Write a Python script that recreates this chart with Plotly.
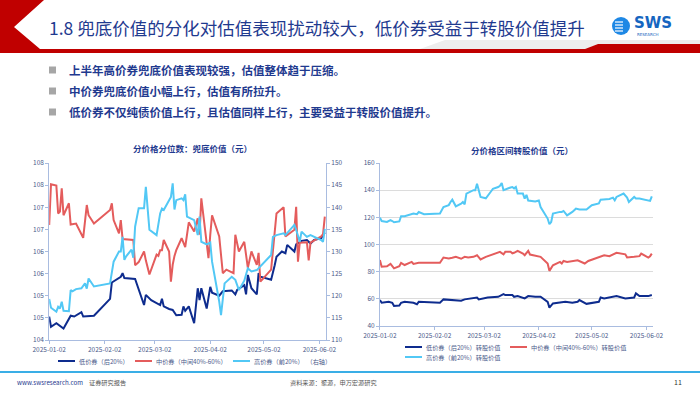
import plotly.graph_objects as go

# ---------------- data: left chart (兜底价值) ----------------
L_LOW_DATES = ["2025-01-02","2025-01-03","2025-01-06","2025-01-10","2025-01-14","2025-01-16","2025-01-20","2025-01-21","2025-01-27",
               "2025-02-05","2025-02-06","2025-02-11","2025-02-12","2025-02-13","2025-02-19","2025-02-24","2025-02-25","2025-02-28",
               "2025-03-05","2025-03-06","2025-03-07","2025-03-10","2025-03-12","2025-03-14","2025-03-17","2025-03-18","2025-03-19",
               "2025-03-21","2025-03-24","2025-03-26","2025-03-27","2025-03-28","2025-03-31","2025-04-02","2025-04-03","2025-04-07",
               "2025-04-09","2025-04-14","2025-04-16","2025-04-17","2025-04-21","2025-04-22","2025-04-23","2025-04-25","2025-04-28",
               "2025-04-29","2025-04-30","2025-05-06","2025-05-08","2025-05-09","2025-05-12","2025-05-14","2025-05-15","2025-05-19",
               "2025-05-20","2025-05-23","2025-05-26","2025-05-28","2025-05-30","2025-06-03","2025-06-05"]
L_LOW = [104.53,104.30,104.38,104.26,104.55,104.53,104.63,104.53,104.55,
         104.93,105.30,105.43,105.51,105.40,105.38,104.79,105.02,104.90,
         104.79,104.93,104.76,104.70,104.68,104.56,104.57,104.76,104.66,
         104.76,104.38,105.17,104.90,105.17,104.71,105.20,105.07,105.00,
         105.10,105.12,105.03,105.13,105.24,105.03,105.47,105.17,105.03,
         105.51,105.43,105.36,105.69,105.88,106.00,105.96,106.15,106.00,
         106.16,106.24,106.26,106.18,106.26,106.30,106.43]

L_MID_DATES = ["2025-01-02","2025-01-03","2025-01-06","2025-01-07","2025-01-08","2025-01-09","2025-01-10","2025-01-13","2025-01-14",
               "2025-01-17","2025-01-21","2025-01-23","2025-01-24","2025-01-27","2025-02-05","2025-02-06","2025-02-07","2025-02-10",
               "2025-02-11","2025-02-12","2025-02-18","2025-02-19","2025-02-21","2025-02-24","2025-02-25","2025-02-27","2025-03-03",
               "2025-03-04","2025-03-05","2025-03-06","2025-03-07","2025-03-10","2025-03-11","2025-03-12","2025-03-13","2025-03-14",
               "2025-03-17","2025-03-19","2025-03-21","2025-03-24","2025-03-26","2025-03-27","2025-03-28","2025-03-31","2025-04-01",
               "2025-04-02","2025-04-03","2025-04-07","2025-04-09","2025-04-11","2025-04-15","2025-04-16","2025-04-18","2025-04-21",
               "2025-04-23","2025-04-25","2025-04-28","2025-04-29","2025-04-30","2025-05-06","2025-05-09","2025-05-13","2025-05-14",
               "2025-05-19","2025-05-20","2025-05-21","2025-05-22","2025-05-26","2025-05-27","2025-05-28","2025-06-03","2025-06-04",
               "2025-06-05"]
L_MID = [106.60,107.52,107.49,106.86,106.90,107.43,106.82,107.09,106.61,
         106.63,106.31,107.05,106.82,106.63,106.94,107.09,106.71,106.41,
         106.71,106.28,106.26,105.69,105.76,106.00,105.80,105.48,105.93,
         105.90,106.03,106.03,106.26,106.00,105.32,105.70,105.90,106.03,
         106.30,106.10,106.66,106.45,106.75,106.38,107.20,106.20,105.85,
         106.38,106.82,106.34,105.51,105.59,105.51,106.38,106.00,106.22,
         105.63,106.00,105.70,105.97,105.32,105.59,106.86,107.00,106.34,
         106.49,107.01,105.77,106.20,106.21,105.80,106.20,106.34,106.39,
         106.79]

L_HIGH_DATES = ["2025-01-02","2025-01-03","2025-01-06","2025-01-07","2025-01-08","2025-01-09","2025-01-10","2025-01-13","2025-01-14",
                "2025-01-15","2025-01-17","2025-01-20","2025-01-22","2025-01-23","2025-01-24","2025-01-27","2025-02-05","2025-02-07",
                "2025-02-10","2025-02-11","2025-02-12","2025-02-13","2025-02-14","2025-02-17","2025-02-18","2025-02-19","2025-02-21",
                "2025-02-24","2025-02-25","2025-02-27","2025-03-03","2025-03-05","2025-03-06","2025-03-07","2025-03-10","2025-03-11",
                "2025-03-12","2025-03-13","2025-03-14","2025-03-17","2025-03-18","2025-03-19","2025-03-20","2025-03-24","2025-03-26",
                "2025-03-27","2025-03-28","2025-03-31","2025-04-02","2025-04-03","2025-04-07","2025-04-08","2025-04-10","2025-04-14",
                "2025-04-16","2025-04-18","2025-04-21","2025-04-23","2025-04-25","2025-04-28","2025-05-06","2025-05-07","2025-05-09",
                "2025-05-13","2025-05-14","2025-05-19","2025-05-20","2025-05-22","2025-05-23","2025-05-26","2025-05-28","2025-06-03",
                "2025-06-04","2025-06-05"]
L_HIGH = [119.27,117.30,116.40,117.50,117.10,118.66,116.60,116.50,121.30,
          121.00,121.50,121.70,122.80,121.60,123.90,122.10,122.80,127.70,
          130.00,130.00,133.30,128.10,128.90,130.40,128.60,135.60,139.80,
          139.80,144.60,134.90,133.70,138.60,139.70,139.40,141.60,142.30,
          145.40,139.50,141.60,142.00,141.60,142.90,137.90,137.10,133.70,
          137.90,132.20,131.60,132.00,127.70,118.70,115.60,122.80,124.30,
          123.60,121.30,123.40,126.20,125.50,125.80,129.20,133.30,133.70,
          134.10,133.70,136.00,134.90,132.20,134.50,133.30,133.70,132.60,
          132.20,135.10]

# ---------------- data: right chart (转股价值) ----------------
R_LOW_DATES = ["2025-01-02","2025-01-03","2025-01-07","2025-01-09","2025-01-10","2025-01-13","2025-01-14","2025-01-16","2025-01-21",
               "2025-01-23","2025-01-24","2025-02-05","2025-02-07","2025-02-12","2025-02-17","2025-02-19","2025-02-24","2025-02-26",
               "2025-02-27","2025-03-04","2025-03-10","2025-03-13","2025-03-14","2025-03-18","2025-03-19","2025-03-21","2025-03-25",
               "2025-03-27","2025-03-31","2025-04-03","2025-04-07","2025-04-08","2025-04-10","2025-04-15","2025-04-17","2025-04-21",
               "2025-04-24","2025-04-25","2025-04-29","2025-05-06","2025-05-07","2025-05-09","2025-05-16","2025-05-21","2025-05-26",
               "2025-05-27","2025-05-29","2025-06-03","2025-06-05"]
R_LOW = [59.1,57.1,57.8,57.1,54.7,55.1,57.1,57.8,57.1,
         56.0,57.8,57.1,59.6,59.1,58.6,59.6,60.3,61.0,
         59.6,61.0,61.5,63.5,62.8,62.8,61.5,62.0,60.3,
         62.0,61.5,61.5,57.8,53.5,56.6,57.1,57.8,57.1,
         57.8,59.1,56.3,57.8,61.0,60.3,62.0,60.3,61.0,
         64.0,62.0,62.0,62.8]

R_MID_DATES = ["2025-01-02","2025-01-03","2025-01-06","2025-01-08","2025-01-10","2025-01-13","2025-01-14","2025-01-16","2025-01-20",
               "2025-01-21","2025-01-24","2025-02-05","2025-02-07","2025-02-10","2025-02-12","2025-02-14","2025-02-17","2025-02-19",
               "2025-02-21","2025-02-24","2025-02-26","2025-02-28","2025-03-03","2025-03-06","2025-03-10","2025-03-11","2025-03-13",
               "2025-03-14","2025-03-17","2025-03-18","2025-03-19","2025-03-21","2025-03-24","2025-03-25","2025-03-27","2025-03-28",
               "2025-04-03","2025-04-07","2025-04-08","2025-04-10","2025-04-14","2025-04-15","2025-04-16","2025-04-18","2025-04-24",
               "2025-04-28","2025-04-30","2025-05-07","2025-05-09","2025-05-12","2025-05-16","2025-05-21","2025-05-22","2025-05-26",
               "2025-05-29","2025-05-30","2025-06-03","2025-06-04","2025-06-05"]
R_MID = [88.5,83.6,84.0,85.7,82.4,84.0,86.5,84.9,87.2,
         85.7,86.5,86.5,90.4,89.7,90.2,90.9,89.5,90.9,
         90.4,90.9,92.1,89.0,90.9,92.1,93.9,94.6,92.8,
         94.6,94.6,93.5,93.9,95.3,93.3,92.1,95.3,92.6,
         90.9,86.0,80.6,84.7,87.2,86.0,87.9,87.2,88.4,
         86.0,87.9,90.9,92.1,91.4,93.9,92.8,90.4,90.9,
         91.4,93.3,90.4,91.4,93.3]

R_HIGH_DATES = ["2025-01-02","2025-01-03","2025-01-06","2025-01-08","2025-01-09","2025-01-10","2025-01-13","2025-01-14","2025-01-16",
                "2025-01-17","2025-01-21","2025-01-23","2025-01-24","2025-01-27","2025-02-05","2025-02-07","2025-02-10","2025-02-11",
                "2025-02-12","2025-02-14","2025-02-17","2025-02-18","2025-02-19","2025-02-20","2025-02-24","2025-02-25","2025-02-26",
                "2025-02-28","2025-03-03","2025-03-06","2025-03-07","2025-03-10","2025-03-11","2025-03-12","2025-03-13","2025-03-17",
                "2025-03-18","2025-03-19","2025-03-20","2025-03-21","2025-03-24","2025-03-25","2025-03-26","2025-03-27","2025-03-31",
                "2025-04-02","2025-04-03","2025-04-07","2025-04-08","2025-04-09","2025-04-10","2025-04-14","2025-04-15","2025-04-16",
                "2025-04-18","2025-04-21","2025-04-23","2025-04-25","2025-04-29","2025-05-02","2025-05-06","2025-05-07","2025-05-12",
                "2025-05-14","2025-05-15","2025-05-16","2025-05-20","2025-05-22","2025-05-23","2025-05-26","2025-05-27","2025-05-29",
                "2025-06-03","2025-06-04","2025-06-05"]
R_HIGH = [119.8,117.3,116.6,118.0,117.3,116.4,117.0,120.8,120.8,
          121.3,122.8,122.3,123.9,122.3,122.8,127.6,129.0,131.3,
          133.0,128.1,130.0,131.3,129.5,137.5,140.0,140.0,144.8,
          135.0,134.0,139.2,141.0,142.3,143.2,145.2,140.0,142.0,
          142.3,141.3,142.3,137.5,137.5,133.8,136.5,132.4,131.7,
          132.4,127.6,119.1,114.9,116.6,122.8,124.0,124.0,124.7,
          121.5,124.0,126.4,125.7,125.7,128.9,130.2,133.0,133.5,
          134.5,132.5,135.0,137.5,134.5,131.3,135.0,133.8,133.8,
          132.5,132.1,135.5]

# ---------------- axis ticks / labels ----------------
X_TICKS = ["2025-01-02","2025-02-02","2025-03-02","2025-04-02","2025-05-02","2025-06-02"]
X_RANGE = ["2025-01-02", "2025-06-05 16:00"]
L_Y_TICKS = [104, 104.5, 105, 105.5, 106, 106.5, 107, 107.5, 108]
L_Y_TEXT = ["104", "105", "105", "106", "106", "107", "107", "108", "108"]
L_Y2_TICKS = [110, 115, 120, 125, 130, 135, 140, 145, 150]
R_Y_TICKS = [40, 60, 80, 100, 120, 140, 160]

L_NAMES = ["低价券（后20%）", "中价券（中间40%-60%）", "高价券（前20%）  （右轴）"]
R_NAMES = ["低价券（后20%）转股价值", "中价券（中间40%-60%）转股价值", "高价券（前20%）转股价值"]

TITLE = "1.8 兜底价值的分化对估值表现扰动较大，低价券受益于转股价值提升"
BULLETS = ["上半年高价券兜底价值表现较强，估值整体趋于压缩。",
           "中价券兜底价值小幅上行，估值有所拉升。",
           "低价券不仅纯债价值上行，且估值同样上行，主要受益于转股价值提升。"]
L_TITLE = "分价格分位数：兜底价值（元）"
R_TITLE = "分价格区间转股价值（元）"

C_LOW, C_MID, C_HIGH = "#0E2C8E", "#E45C5C", "#52C8F5"
AX = "#A9BCE0"
TICKC = "#4A5A8A"
NAVY = "#1F3A8F"
FONT = "Noto Sans CJK SC"
W, H = 700, 394


def px(x):
    return x / W


def py(y):
    return 1 - y / H


fig = go.Figure()
fig.add_trace(go.Scatter(x=L_LOW_DATES, y=L_LOW, mode="lines", line=dict(color=C_LOW, width=2),
                         xaxis="x", yaxis="y", name=L_NAMES[0], showlegend=False))
fig.add_trace(go.Scatter(x=L_MID_DATES, y=L_MID, mode="lines", line=dict(color=C_MID, width=2),
                         xaxis="x", yaxis="y", name=L_NAMES[1], showlegend=False))
fig.add_trace(go.Scatter(x=L_HIGH_DATES, y=L_HIGH, mode="lines", line=dict(color=C_HIGH, width=2),
                         xaxis="x", yaxis="y2", name=L_NAMES[2], showlegend=False))
fig.add_trace(go.Scatter(x=R_LOW_DATES, y=R_LOW, mode="lines", line=dict(color=C_LOW, width=2),
                         xaxis="x2", yaxis="y3", name=R_NAMES[0], showlegend=False))
fig.add_trace(go.Scatter(x=R_MID_DATES, y=R_MID, mode="lines", line=dict(color=C_MID, width=2),
                         xaxis="x2", yaxis="y3", name=R_NAMES[1], showlegend=False))
fig.add_trace(go.Scatter(x=R_HIGH_DATES, y=R_HIGH, mode="lines", line=dict(color=C_HIGH, width=2),
                         xaxis="x2", yaxis="y3", name=R_NAMES[2], showlegend=False))

tickfont = dict(size=6.5, color=TICKC, family=FONT)
xcommon = dict(type="date", range=X_RANGE, tickvals=X_TICKS, tickformat="%Y-%m-%d",
               showline=True, linecolor=AX, linewidth=1, ticks="outside", ticklen=3, tickcolor=AX,
               tickfont=tickfont, showgrid=False, zeroline=False, fixedrange=True, automargin=False)
ycommon = dict(showline=True, linecolor=AX, ticks="outside", ticklen=3, tickcolor=AX, tickfont=tickfont,
               zeroline=False, automargin=False, fixedrange=True)

fig.update_layout(
    width=W, height=H, autosize=False, margin=dict(l=0, r=0, t=0, b=0, pad=0, autoexpand=False),
    paper_bgcolor="white", plot_bgcolor="rgba(0,0,0,0)", hovermode=False,
    font=dict(family=FONT),
    xaxis=dict(domain=[px(49.2), px(326)], anchor="y", **xcommon),
    yaxis=dict(domain=[py(340), py(163)], anchor="x", range=[104, 108], tickvals=L_Y_TICKS, ticktext=L_Y_TEXT,
               showgrid=False, **ycommon),
    yaxis2=dict(overlaying="y", side="right", anchor="x", range=[110, 150], tickvals=L_Y2_TICKS,
                showgrid=False, **ycommon),
    xaxis2=dict(domain=[px(379.9), px(653)], anchor="y3", **xcommon),
    yaxis3=dict(domain=[py(326), py(163)], anchor="x2", range=[40, 160], tickvals=R_Y_TICKS,
                showgrid=True, gridcolor="#DCDCDC", gridwidth=1, **ycommon),
)

shapes = []
ann = []


def text(t, x, y, size, color, anchor="left", family=FONT):
    ann.append(dict(text=t, x=px(x), y=py(y), xref="paper", yref="paper", xanchor=anchor, yanchor="middle",
                    showarrow=False, font=dict(size=size, color=color, family=family)))


def pshape(**kw):
    kw.setdefault("xref", "paper")
    kw.setdefault("yref", "paper")
    shapes.append(kw)


# header: red chevron and band
pshape(type="path",
       path=f"M {px(0)},{py(0)} L {px(44)},{py(0)} L {px(14)},{py(27)} L {px(40)},{py(49)} "
            f"L {px(700)},{py(49)} L {px(700)},{py(53)} L {px(0)},{py(53)} Z",
       fillcolor="#C00000", line=dict(width=0), layer="below")
pshape(type="path",
       path=f"M {px(420)},{py(49)} L {px(445)},{py(40)} L {px(700)},{py(40)} L {px(700)},{py(44)} L {px(598)},{py(44)} L {px(585)},{py(49)} Z",
       fillcolor="#EDEDED", line=dict(width=0), layer="below")
pshape(type="path",
       path=f"M {px(585)},{py(49)} L {px(598)},{py(44)} L {px(700)},{py(44)} L {px(700)},{py(49)} Z",
       fillcolor="#C00000", line=dict(width=0), layer="below")
text(TITLE, 47, 28, 17.5, NAVY)

# logo
pshape(type="circle", x0=px(612), x1=px(630), y0=py(35), y1=py(17), fillcolor="#1E88E5", line=dict(width=0))
for yy in (22, 25, 28, 31):
    pshape(type="line", x0=px(615), x1=px(623), y0=py(yy), y1=py(yy), line=dict(color="white", width=1.2))
text("<b>SWS</b>", 632, 23, 15, "#1565C0", family="DejaVu Sans")
text("RESEARCH", 648, 34, 4, "#1565C0", anchor="center", family="DejaVu Sans")

# bullets
for txt, yy in zip(BULLETS, (70, 91, 112)):
    pshape(type="rect", x0=px(49), x1=px(56), y0=py(yy + 3.5), y1=py(yy - 3.5), fillcolor="#A6A6A6", line=dict(width=0))
    text(f"<b>{txt}</b>", 67, yy, 11.5, NAVY)

# chart titles
text(f"<b>{L_TITLE}</b>", 192, 148, 8.5, NAVY, anchor="center")
text(f"<b>{R_TITLE}</b>", 522, 150, 8.5, NAVY, anchor="center")

# legends (drawn)
for (x0, yy, col, txt) in [(58, 361, C_LOW, L_NAMES[0]), (135, 361, C_MID, L_NAMES[1]), (233, 361, C_HIGH, L_NAMES[2]),
                           (405, 347, C_LOW, R_NAMES[0]), (510, 347, C_MID, R_NAMES[1]), (405, 357, C_HIGH, R_NAMES[2])]:
    pshape(type="line", x0=px(x0), x1=px(x0 + 17), y0=py(yy), y1=py(yy), line=dict(color=col, width=2))
    text(txt, x0 + 19, yy, 6.2, TICKC)

# footer
pshape(type="line", x0=0, x1=1, y0=py(372), y1=py(372), line=dict(color="#3AAEE6", width=2))
text("www.swsresearch.com", 15, 382, 6.2, NAVY)
text("证券研究报告", 87, 382, 6.2, "#555555")
text("资料来源：聚源，申万宏源研究", 333, 382, 6.2, "#555555", anchor="center")
text("11", 678, 382, 7, "#333333", anchor="center")

fig.update_layout(shapes=shapes, annotations=ann)
fig.write_html("out.html", config={"displayModeBar": False, "staticPlot": True},
               post_script="document.body.style.margin='0';document.body.style.padding='0';")
